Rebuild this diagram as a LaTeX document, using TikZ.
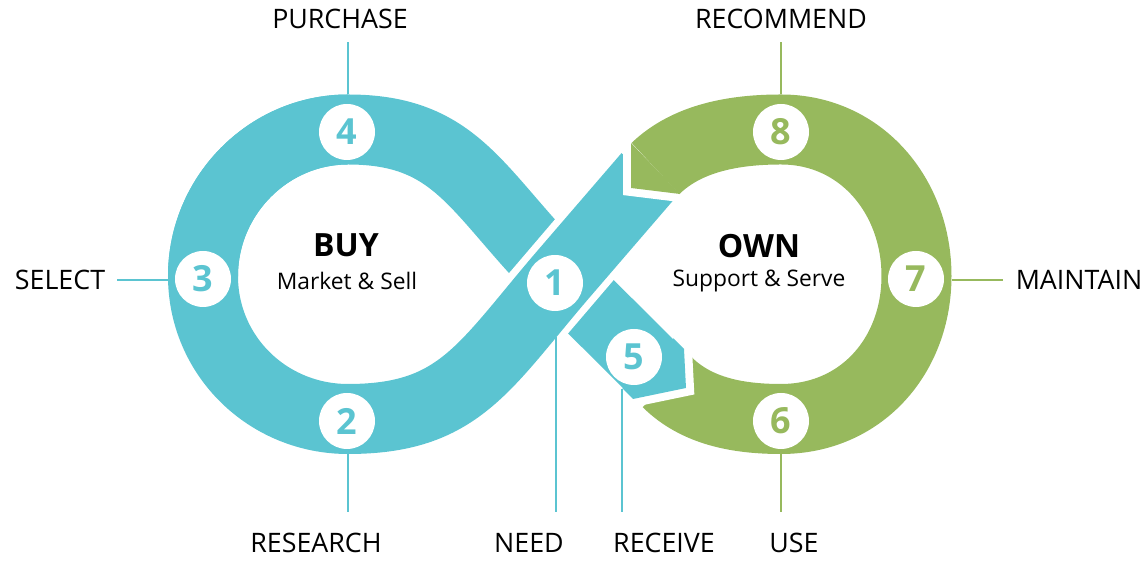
\documentclass[tikz,border=0pt]{standalone}
\usepackage{fontspec}
\setmainfont{Open Sans}
\usepackage{tikz}
\usepackage{xcolor}
\definecolor{buyblue}{HTML}{5BC4D1}
\definecolor{owngreen}{HTML}{97B95D}

\begin{document}
\begin{tikzpicture}[x=0.5pt,y=0.5pt]
    \tikzstyle{band} = [line width=35pt, line cap=butt]
    \tikzstyle{gap} = [white, line width=42pt, line cap=butt]
    \tikzstyle{tipgap} = [white, line width=8pt, line join=miter]
    \tikzstyle{num} = [circle, fill=white, minimum size=28pt, inner sep=0pt, font=\fontsize{18}{18}\selectfont\bfseries]
    \tikzstyle{head} = [font=\fontsize{16}{16}\selectfont\bfseries]
    \tikzstyle{sub} = [font=\fontsize{11.4}{11.4}\selectfont]
    \tikzstyle{lbl} = [font=\fontsize{13.4}{13.4}\selectfont]
    \tikzstyle{lead} = [line width=0.8pt]

    \useasboundingbox (0,0) rectangle (1148,566);

    % points on the middle line of the band
    \coordinate (C) at (561,289);
    \coordinate (M) at (648,390);
    \coordinate (P2) at (348,147);
    \coordinate (P3) at (203,290);
    \coordinate (T4) at (348,436.5);
    \coordinate (E5) at (658.5,192);
    \coordinate (S6) at (667,184);
    \coordinate (P6) at (781,147);
    \coordinate (P7) at (916.5,290);
    \coordinate (T8) at (781,436.5);
    \coordinate (E8) at (655.5,397.5);
    % arrow heads
    \coordinate (o8) at (631,423);
    \coordinate (a8) at (631,378);
    \coordinate (i8) at (680,372);
    \coordinate (u5) at (684,217);
    \coordinate (h5) at (686,178);
    \coordinate (v5) at (633,167);

    % buy loop, the band under the crossing first
    \draw [band, buyblue] (P3) .. controls +(90:80) and +(180:80) .. (T4)
        .. controls +(0:110) and +(135:120) .. (C) -- (E5);
    \draw [gap] (C) ++(49.5:60) -- ++(229.5:120);
    \draw [band, buyblue] (M) -- (C) .. controls +(229.5:120) and +(0:110) .. (P2)
        .. controls +(180:80) and +(270:80) .. (P3)
        .. controls +(90:80) and +(180:80) .. (T4);

    % own loop
    \draw [tipgap] (o8) -- (a8) -- (i8);
    \draw [band, owngreen] (S6) .. controls +(-45:42) and +(180:42) .. (P6)
        .. controls +(0:80) and +(270:80) .. (P7)
        .. controls +(90:80) and +(0:80) .. (T8)
        .. controls +(180:45) and +(44:45) .. (E8);
    \fill [owngreen] (o8) -- (a8) -- (i8) -- cycle;

    \draw [tipgap] (u5) -- (h5) -- (v5);
    \fill [buyblue] (673.4,227.6) -- (u5) -- (h5) -- (v5) -- (622.4,177.6) -- cycle;

    % steps
    \node (n1) [num, text=buyblue] at (555,283) {1};
    \node (n2) [num, text=buyblue] at (347,145) {2};
    \node (n3) [num, text=buyblue] at (203,287) {3};
    \node (n4) [num, text=buyblue] at (347,434) {4};
    \node (n5) [num, text=buyblue] at (634,209) {5};
    \node (n6) [num, text=owngreen] at (781,145) {6};
    \node (n7) [num, text=owngreen] at (916,287) {7};
    \node (n8) [num, text=owngreen] at (781,434) {8};

    \node (buy) [head] at (346,321) {BUY};
    \node (buysub) [sub] at (347,285) {Market \& Sell};
    \node (own) [head] at (759,320) {OWN};
    \node (ownsub) [sub] at (759,285) {Support \& Serve};

    % labels
    \node (purchase) [lbl, inner sep=6.5pt] at (340,547) {PURCHASE};
    \node (recommend) [lbl, inner sep=6.5pt] at (781,547) {RECOMMEND};
    \node (select) [lbl, inner sep=6pt] at (60,286) {SELECT};
    \node (maintain) [lbl, inner sep=6pt] at (1079,286) {MAINTAIN};
    \node (research) [lbl, inner sep=10.5pt] at (316,23) {RESEARCH};
    \node (need) [lbl, inner sep=10.5pt] at (529,23) {NEED};
    \node (receive) [lbl, inner sep=10.5pt] at (664,23) {RECEIVE};
    \node (use) [lbl, inner sep=10.5pt] at (794,23) {USE};

    \coordinate (e1) at (556,229);
    \coordinate (e2) at (348,112);
    \coordinate (e3) at (168,286);
    \coordinate (e4) at (348,471.5);
    \coordinate (e5) at (622,177);
    \coordinate (e6) at (781,112);
    \coordinate (e7) at (951.5,286);
    \coordinate (e8) at (781,471.5);

    \draw [lead, buyblue] (e4) -- (e4 |- purchase.south);
    \draw [lead, owngreen] (e8) -- (e8 |- recommend.south);
    \draw [lead, buyblue] (e3) -- (select);
    \draw [lead, owngreen] (e7) -- (maintain);
    \draw [lead, buyblue] (e2) -- (e2 |- research.north);
    \draw [lead, buyblue] (e1) -- (e1 |- need.north);
    \draw [lead, buyblue] (e5) -- (e5 |- receive.north);
    \draw [lead, owngreen] (e6) -- (e6 |- use.north);
\end{tikzpicture}
\end{document}
